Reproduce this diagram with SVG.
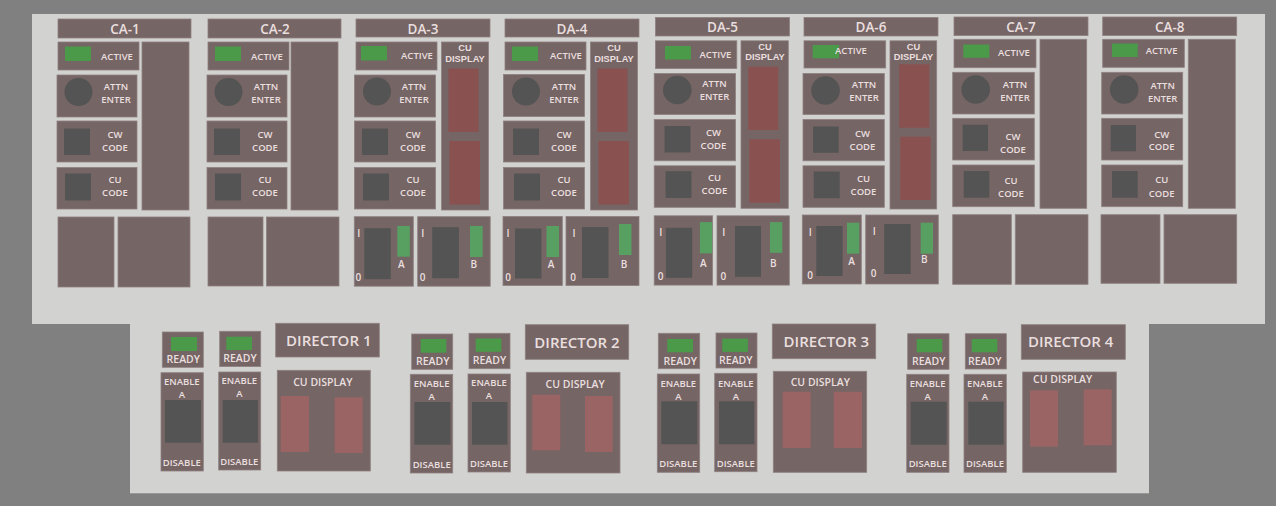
<svg xmlns="http://www.w3.org/2000/svg" width="1276" height="506" viewBox="0 0 1276 506">
<style>
.bx{fill:#766565;stroke:#8e8181;stroke-width:0.8}
.dk{fill:#545454}
.gn{fill:#4a9a4a}
.gs{fill:#58a062}
.rd{fill:#8a5151}
.rl{fill:#9a6464}
text{font-family:"Open Sans","Liberation Sans",sans-serif;font-weight:600;fill:#e9dfdf;text-anchor:middle}
.h{font-size:13.5px}
.s{font-size:9.5px}
.m{font-size:10px}
.c{font-family:"Liberation Sans",Arial,sans-serif;font-weight:700;font-size:9.3px}
.r{font-size:10.5px}
.d{font-size:15px}
</style>
<rect x="0" y="0" width="1276" height="506" fill="#808080"/>
<g id="panels">
<rect x="32" y="14" width="1233" height="310" fill="#d2d2d0"/>
<rect x="130" y="323" width="1019" height="170.3" fill="#d2d2d0"/>
</g>

<g id="ca-1" transform="translate(58,19)">
<rect class="bx" x="0" y="0" width="133" height="19"/><text class="h" x="67" y="15">CA-1</text>
<rect class="bx" x="0" y="23" width="81" height="28"/><rect class="gn" x="7" y="27.5" width="26" height="14.5"/><text class="s" x="59" y="40.5">ACTIVE</text>
<rect class="bx" x="-1" y="56" width="80" height="42"/><circle class="dk" cx="20.5" cy="73" r="14"/><text class="s" x="58" y="70.5">ATTN</text><text class="s" x="58" y="83.5">ENTER</text>
<rect class="bx" x="-1" y="102" width="80" height="41"/><rect class="dk" x="6" y="109.5" width="26" height="26.5"/><text class="s" x="57" y="118.5">CW</text><text class="s" x="57" y="131.5">CODE</text>
<rect class="bx" x="-1" y="148.5" width="80" height="41.5"/><rect class="dk" x="7" y="154.5" width="26" height="27"/><text class="s" x="57" y="163.5">CU</text><text class="s" x="57" y="177">CODE</text>
<rect class="bx" x="84" y="23" width="47" height="168"/>
<rect class="bx" x="0" y="198" width="56" height="70"/><rect class="bx" x="60" y="198" width="72" height="70"/>
</g>

<g id="ca-2" transform="translate(208,19)">
<rect class="bx" x="0" y="0" width="133" height="19"/><text class="h" x="67" y="15">CA-2</text>
<rect class="bx" x="0" y="23" width="81" height="28"/><rect class="gn" x="7" y="27.5" width="26" height="14.5"/><text class="s" x="59" y="40.5">ACTIVE</text>
<rect class="bx" x="-1" y="56" width="80" height="42"/><circle class="dk" cx="20.5" cy="73" r="14"/><text class="s" x="58" y="70.5">ATTN</text><text class="s" x="58" y="83.5">ENTER</text>
<rect class="bx" x="-1" y="102" width="80" height="41"/><rect class="dk" x="6" y="109.5" width="26" height="26.5"/><text class="s" x="57" y="118.5">CW</text><text class="s" x="57" y="131.5">CODE</text>
<rect class="bx" x="-1" y="148.5" width="80" height="41.5"/><rect class="dk" x="7" y="154.5" width="26" height="27"/><text class="s" x="57" y="163.5">CU</text><text class="s" x="57" y="177">CODE</text>
<rect class="bx" x="83" y="23" width="47" height="168"/>
<rect class="bx" x="0" y="198" width="55" height="69"/><rect class="bx" x="58.5" y="198" width="72.5" height="69"/>
</g>

<g id="da-3" transform="translate(356,19)">
<rect class="bx" x="0" y="0" width="134" height="18"/><text class="h" x="67" y="14.5">DA-3</text>
<rect class="bx" x="0" y="23" width="81" height="28"/><rect class="gn" x="5" y="27" width="26" height="14.5"/><text class="s" x="61" y="40">ACTIVE</text>
<rect class="bx" x="-1.5" y="56" width="81" height="42"/><circle class="dk" cx="21" cy="72.5" r="14"/><text class="s" x="58" y="70.5">ATTN</text><text class="s" x="58" y="83.5">ENTER</text>
<rect class="bx" x="-1.5" y="102" width="81" height="41"/><rect class="dk" x="6" y="109.5" width="26" height="26.5"/><text class="s" x="57" y="118.5">CW</text><text class="s" x="57" y="131.5">CODE</text>
<rect class="bx" x="-1.5" y="148.5" width="81" height="41.5"/><rect class="dk" x="7" y="154.5" width="26" height="27"/><text class="s" x="57" y="163.5">CU</text><text class="s" x="57" y="177">CODE</text>
<rect class="bx" x="85.5" y="23" width="47" height="168"/><text class="c" x="109" y="32.3">CU</text><text class="c" x="109" y="42.8">DISPLAY</text>
<rect class="rd" x="92.5" y="49.5" width="30" height="63.5"/><rect class="rd" x="93.5" y="122" width="30.5" height="63.5"/>
<g transform="translate(-1.7,197.7)"><rect class="bx" x="0" y="0" width="59" height="69.5"/><rect class="dk" x="10" y="11.5" width="26.5" height="51"/><rect class="gs" x="43" y="9.3" width="12.5" height="30.7"/><text class="m" x="4.5" y="20.5">I</text><text class="m" x="47" y="51.5">A</text><text class="m" x="4" y="64.5">0</text></g>
<g transform="translate(61.7,197.7)"><rect class="bx" x="0" y="0" width="72.5" height="69.5"/><rect class="dk" x="14.5" y="10.5" width="26.7" height="51"/><rect class="gs" x="52.3" y="9.3" width="12.7" height="31"/><text class="m" x="5" y="20.5">I</text><text class="m" x="56" y="51.5">B</text><text class="m" x="5" y="64.5">0</text></g>
</g>

<g id="da-4" transform="translate(505,19)">
<rect class="bx" x="0" y="0" width="134" height="18"/><text class="h" x="67" y="14.5">DA-4</text>
<rect class="bx" x="0" y="23" width="81" height="28"/><rect class="gn" x="7" y="27.5" width="26" height="14.5"/><text class="s" x="61" y="40">ACTIVE</text>
<rect class="bx" x="-1.5" y="55.5" width="81" height="42"/><circle class="dk" cx="21" cy="72.5" r="14"/><text class="s" x="59" y="70.5">ATTN</text><text class="s" x="59" y="83.5">ENTER</text>
<rect class="bx" x="-1.5" y="102" width="81" height="41"/><rect class="dk" x="8" y="109.5" width="26" height="26.5"/><text class="s" x="59" y="118.5">CW</text><text class="s" x="59" y="131.5">CODE</text>
<rect class="bx" x="-1.5" y="148.5" width="81" height="41.5"/><rect class="dk" x="9" y="154.5" width="26" height="27"/><text class="s" x="59" y="163.5">CU</text><text class="s" x="59" y="177">CODE</text>
<rect class="bx" x="85.5" y="23" width="47" height="168"/><text class="c" x="109" y="32.3">CU</text><text class="c" x="109" y="42.8">DISPLAY</text>
<rect class="rd" x="92.5" y="49.5" width="30" height="63.5"/><rect class="rd" x="93.5" y="122" width="30.5" height="63.5"/>
<g transform="translate(-2,197.5)"><rect class="bx" x="0" y="0" width="59.3" height="69"/><rect class="dk" x="12" y="12" width="26.5" height="50"/><rect class="gs" x="43.5" y="9.5" width="12.5" height="31"/><text class="m" x="5" y="20.5">I</text><text class="m" x="48" y="51.5">A</text><text class="m" x="5" y="64.5">0</text></g>
<g transform="translate(61,197.5)"><rect class="bx" x="0" y="0" width="73" height="69"/><rect class="dk" x="16" y="10.5" width="26.5" height="51"/><rect class="gs" x="53" y="7.5" width="12.5" height="31"/><text class="m" x="8" y="20.5">I</text><text class="m" x="58" y="51.5">B</text><text class="m" x="7" y="64.5">0</text></g>
</g>

<g id="da-5" transform="translate(655.5,17.5)">
<rect class="bx" x="0" y="0" width="134" height="18.5"/><text class="h" x="67" y="14.5">DA-5</text>
<rect class="bx" x="0" y="23.3" width="81.3" height="27.7"/><rect class="gn" x="9.5" y="28.5" width="26" height="13.5"/><text class="s" x="60" y="40">ACTIVE</text>
<rect class="bx" x="-1.3" y="56" width="81.3" height="41"/><circle class="dk" cx="21.8" cy="72.5" r="14.3"/><text class="s" x="59" y="69.5">ATTN</text><text class="s" x="59" y="82.5">ENTER</text>
<rect class="bx" x="-1.3" y="102" width="81.3" height="41.3"/><rect class="dk" x="9" y="108.5" width="26" height="26.5"/><text class="s" x="58" y="118">CW</text><text class="s" x="58" y="131">CODE</text>
<rect class="bx" x="-1.3" y="148.3" width="81.3" height="41.5"/><rect class="dk" x="10" y="153.7" width="26" height="26.7"/><text class="s" x="59" y="163">CU</text><text class="s" x="59" y="176.5">CODE</text>
<rect class="bx" x="85.5" y="23.3" width="47.3" height="167.5"/><text class="c" x="109.5" y="32.4">CU</text><text class="c" x="109.5" y="42.9">DISPLAY</text>
<rect class="rd" x="92.8" y="49.2" width="30" height="63.3"/><rect class="rd" x="93.8" y="121.8" width="30.7" height="63.4"/>
<g transform="translate(-1.3,198.3)"><rect class="bx" x="0" y="0" width="58.4" height="69.3"/><rect class="dk" x="11.7" y="12" width="26.3" height="50"/><rect class="gs" x="45.7" y="6.3" width="12.3" height="31.3"/><text class="m" x="6.5" y="20.3">I</text><text class="m" x="49" y="51">A</text><text class="m" x="6.4" y="64.3">0</text></g>
<g transform="translate(61.5,198.3)"><rect class="bx" x="0" y="0" width="72.3" height="69.3"/><rect class="dk" x="18" y="10.3" width="26" height="50.7"/><rect class="gs" x="53" y="6.3" width="12.3" height="30.7"/><text class="m" x="6.7" y="20.3">I</text><text class="m" x="56.3" y="51.6">B</text><text class="m" x="6.3" y="64.3">0</text></g>
</g>

<g id="da-6" transform="translate(804,17.5)">
<rect class="bx" x="0" y="0" width="134" height="18.5"/><text class="h" x="67" y="14.5">DA-6</text>
<rect class="bx" x="0" y="23.3" width="81.7" height="27.2"/><rect class="gn" x="8.7" y="27.5" width="26.3" height="13.3"/><text class="s" x="47" y="36.5">ACTIVE</text>
<rect class="bx" x="-1" y="56" width="81.3" height="41"/><circle class="dk" cx="21.5" cy="73" r="14.3"/><text class="s" x="60" y="70.5">ATTN</text><text class="s" x="60" y="83.5">ENTER</text>
<rect class="bx" x="-1" y="102" width="81.3" height="41.3"/><rect class="dk" x="9" y="109" width="25.7" height="26.3"/><text class="s" x="58.5" y="119">CW</text><text class="s" x="58.5" y="132">CODE</text>
<rect class="bx" x="-1" y="148.3" width="81.3" height="41.5"/><rect class="dk" x="9.7" y="154" width="26" height="26.7"/><text class="s" x="59.5" y="164">CU</text><text class="s" x="59.5" y="177.5">CODE</text>
<rect class="bx" x="86" y="23.3" width="46.7" height="168.2"/><text class="c" x="109.5" y="32.4">CU</text><text class="c" x="109.5" y="42.9">DISPLAY</text>
<rect class="rd" x="95.3" y="46.8" width="30" height="63.4"/><rect class="rd" x="96.3" y="119.2" width="30.4" height="63.3"/>
<g transform="translate(-1.7,197.5)"><rect class="bx" x="0" y="0" width="59" height="69"/><rect class="dk" x="14" y="11" width="26.3" height="50"/><rect class="gs" x="44.7" y="7.7" width="12.3" height="31"/><text class="m" x="8" y="20.5">I</text><text class="m" x="49.3" y="49.5">A</text><text class="m" x="7.7" y="63.8">0</text></g>
<g transform="translate(61.7,197.5)"><rect class="bx" x="0" y="0" width="72.6" height="69"/><rect class="dk" x="18.5" y="9" width="26.5" height="50"/><rect class="gs" x="55" y="7.7" width="12.3" height="31"/><text class="m" x="8.5" y="19.5">I</text><text class="m" x="58.5" y="48">B</text><text class="m" x="8" y="61.5">0</text></g>
</g>

<g id="ca-7" transform="translate(954,17)">
<rect class="bx" x="0" y="0" width="134" height="18.6"/><text class="h" x="67" y="14.5">CA-7</text>
<rect class="bx" x="0" y="22.3" width="82" height="28.4"/><rect class="gn" x="9.3" y="27.5" width="26" height="13.3"/><text class="s" x="60" y="38.5">ACTIVE</text>
<rect class="bx" x="-1.3" y="55.3" width="81.6" height="41.7"/><circle class="dk" cx="21.7" cy="72.5" r="14.3"/><text class="s" x="61" y="71.3">ATTN</text><text class="s" x="61" y="84">ENTER</text>
<rect class="bx" x="-1.3" y="101.3" width="81.6" height="41.7"/><rect class="dk" x="8.7" y="107.7" width="25.3" height="26.3"/><text class="s" x="59" y="122.5">CW</text><text class="s" x="59" y="135.5">CODE</text>
<rect class="bx" x="-1.3" y="148" width="81.6" height="41.7"/><rect class="dk" x="9.7" y="154" width="25.6" height="26.7"/><text class="s" x="57" y="167">CU</text><text class="s" x="57" y="180">CODE</text>
<rect class="bx" x="86" y="22.3" width="46.7" height="169"/>
<rect class="bx" x="-1.3" y="197.7" width="58.6" height="69.6"/><rect class="bx" x="61.3" y="197.7" width="72.7" height="69.6"/>
</g>

<g id="ca-8" transform="translate(1102.7,17)">
<rect class="bx" x="0" y="0" width="134" height="18.6"/><text class="h" x="67" y="14.5">CA-8</text>
<rect class="bx" x="0" y="22.3" width="81.6" height="28"/><rect class="gn" x="9.3" y="26.5" width="25.7" height="13.5"/><text class="s" x="59" y="37.3">ACTIVE</text>
<rect class="bx" x="-1" y="55.3" width="81" height="41.7"/><circle class="dk" cx="21.5" cy="72.5" r="14.3"/><text class="s" x="60" y="72">ATTN</text><text class="s" x="60" y="85">ENTER</text>
<rect class="bx" x="-1" y="101.3" width="81" height="41.7"/><rect class="dk" x="8" y="108" width="25.3" height="26.3"/><text class="s" x="59" y="120.5">CW</text><text class="s" x="59" y="133.3">CODE</text>
<rect class="bx" x="-1" y="148" width="81" height="41.7"/><rect class="dk" x="9.3" y="154" width="25.7" height="26.7"/><text class="s" x="59" y="166.3">CU</text><text class="s" x="59" y="179.5">CODE</text>
<rect class="bx" x="85.6" y="22.3" width="47" height="169"/>
<rect class="bx" x="-1.7" y="197.7" width="59" height="68.6"/><rect class="bx" x="61.3" y="197.7" width="72.7" height="68.6"/>
</g>

<g id="director-1" transform="translate(162.3,332)">
<rect class="bx" x="0" y="0" width="41" height="35.3"/><rect class="gn" x="8.7" y="5" width="26" height="14"/><text class="r" x="21" y="31">READY</text>
<rect class="bx" x="57.4" y="-0.7" width="41" height="35.3"/><rect class="gn" x="64" y="4.7" width="25.7" height="13.3"/><text class="r" x="77.7" y="30.3">READY</text>
<rect class="bx" x="-1.3" y="40.7" width="42.3" height="98.3"/><text class="s" x="19.5" y="53">ENABLE</text><text class="s" x="19.5" y="66.3">A</text><rect class="dk" x="2.7" y="68" width="36" height="42.7"/><text class="s" x="19.5" y="133.7">DISABLE</text>
<rect class="bx" x="56.4" y="40" width="42" height="98"/><text class="s" x="77" y="51.8">ENABLE</text><text class="s" x="77" y="65">A</text><rect class="dk" x="60.4" y="68" width="35.3" height="42.7"/><text class="s" x="77" y="132.5">DISABLE</text>
<rect class="bx" x="113.4" y="-8.7" width="103.6" height="33.7"/><text class="d" x="166.5" y="13.7">DIRECTOR 1</text>
<rect class="bx" x="115" y="38.3" width="93" height="100.7"/><text class="r" x="160.5" y="54">CU DISPLAY</text>
<rect class="rl" x="118.4" y="64" width="28.3" height="56"/><rect class="rl" x="172.4" y="65.3" width="28" height="55.7"/>
</g>

<g id="director-2" transform="translate(411.7,334)">
<rect class="bx" x="0" y="0" width="41" height="35.3"/><rect class="gn" x="9" y="5" width="25.6" height="13.7"/><text class="r" x="21" y="31">READY</text>
<rect class="bx" x="57.3" y="-0.7" width="41" height="35.4"/><rect class="gn" x="64" y="4.5" width="25.7" height="13.3"/><text class="r" x="77.7" y="30.3">READY</text>
<rect class="bx" x="-1.4" y="40.3" width="42.4" height="98.7"/><text class="s" x="20" y="53">ENABLE</text><text class="s" x="20" y="66.3">A</text><rect class="dk" x="2.7" y="68" width="36" height="42.7"/><text class="s" x="20" y="134">DISABLE</text>
<rect class="bx" x="56.3" y="40" width="42.3" height="98"/><text class="s" x="77.3" y="51.8">ENABLE</text><text class="s" x="77.3" y="65">A</text><rect class="dk" x="60.3" y="68" width="35.4" height="42.7"/><text class="s" x="77.3" y="132.5">DISABLE</text>
<rect class="bx" x="113.6" y="-9.3" width="103.4" height="34.6"/><text class="d" x="165.3" y="13.7">DIRECTOR 2</text>
<rect class="bx" x="114.6" y="38.3" width="93.7" height="100.7"/><text class="r" x="163.5" y="54">CU DISPLAY</text>
<rect class="rl" x="120.6" y="60.7" width="28" height="55.6"/><rect class="rl" x="173.3" y="62" width="27.7" height="56"/>
</g>

<g id="director-3" transform="translate(658.3,333.3)">
<rect class="bx" x="0" y="0" width="41.4" height="35.4"/><rect class="gn" x="9" y="5.7" width="25.7" height="13.3"/><text class="r" x="22" y="31.3">READY</text>
<rect class="bx" x="57.7" y="-0.3" width="41" height="35"/><rect class="gn" x="64" y="5.3" width="25.6" height="13.3"/><text class="r" x="77.5" y="31">READY</text>
<rect class="bx" x="-1" y="40.7" width="42.4" height="98.3"/><text class="s" x="20" y="53.5">ENABLE</text><text class="s" x="20" y="66.5">A</text><rect class="dk" x="3" y="68" width="36" height="43"/><text class="s" x="20" y="134">DISABLE</text>
<rect class="bx" x="56.4" y="40" width="42.3" height="98.4"/><text class="s" x="77.5" y="53.3">ENABLE</text><text class="s" x="77.5" y="66.3">A</text><rect class="dk" x="60.7" y="68" width="35.3" height="43"/><text class="s" x="77.5" y="134">DISABLE</text>
<rect class="bx" x="114" y="-9.3" width="103.4" height="34.7"/><text class="d" x="168" y="13.5">DIRECTOR 3</text>
<rect class="bx" x="115" y="38" width="93.4" height="101"/><text class="r" x="162" y="52.4">CU DISPLAY</text>
<rect class="rl" x="124.4" y="58.4" width="28" height="56.3"/><rect class="rl" x="175.4" y="58.4" width="28.3" height="56.3"/>
</g>

<g id="director-4" transform="translate(907.7,333.7)">
<rect class="bx" x="0" y="0" width="41.3" height="35.6"/><rect class="gn" x="9" y="5.3" width="25.6" height="13.3"/><text class="r" x="21" y="31">READY</text>
<rect class="bx" x="57.6" y="0" width="41" height="35.3"/><rect class="gn" x="64" y="5.3" width="25.6" height="13.3"/><text class="r" x="77" y="31">READY</text>
<rect class="bx" x="-1" y="40.6" width="42.3" height="98"/><text class="s" x="20" y="53">ENABLE</text><text class="s" x="20" y="66.3">A</text><rect class="dk" x="3" y="68" width="36" height="43"/><text class="s" x="20" y="133.7">DISABLE</text>
<rect class="bx" x="56.3" y="40.6" width="42.3" height="98"/><text class="s" x="77.3" y="53">ENABLE</text><text class="s" x="77.3" y="66.3">A</text><rect class="dk" x="60.6" y="68" width="35.4" height="43"/><text class="s" x="77.3" y="133.7">DISABLE</text>
<rect class="bx" x="113.6" y="-9" width="104" height="34.6"/><text class="d" x="163" y="13.5">DIRECTOR 4</text>
<rect class="bx" x="115" y="38.3" width="93.6" height="100.3"/><text class="r" x="155" y="49.6">CU DISPLAY</text>
<rect class="rl" x="122.3" y="56.6" width="28" height="56.4"/><rect class="rl" x="176" y="55.6" width="28" height="56"/>
</g>
</svg>
